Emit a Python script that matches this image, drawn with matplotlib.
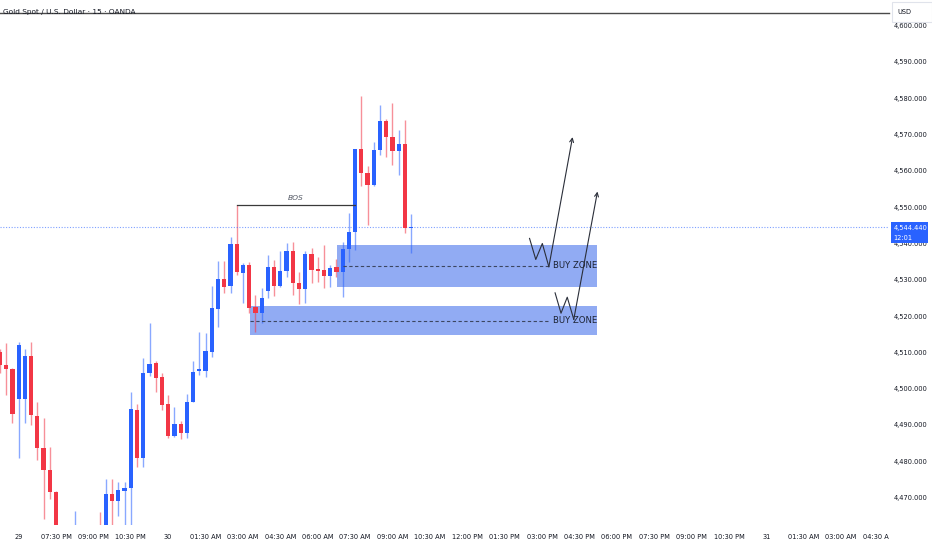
import matplotlib as mpl
import matplotlib.pyplot as plt
from matplotlib import font_manager
from matplotlib.patches import Rectangle

# 15-minute candles, index 0 = left edge of the chart
opens = [
    4510.1, 4506.5, 4505.4, 4497.1, 4497.1, 4509.1, 4492.6, 4483.7, 4477.6, 4471.6,
    4455.0, 4452.0, 4450.0, 4457.0, 4455.0, 4459.0, 4460.0, 4458.5, 4471.0, 4469.0,
    4471.9, 4472.6, 4494.1, 4480.8, 4504.2, 4507.0, 4503.1, 4495.7, 4487.0, 4490.2,
    4487.9, 4496.4, 4504.9, 4505.0, 4510.0, 4522.0, 4530.1, 4528.3, 4539.8, 4532.0,
    4534.1, 4522.6, 4520.8, 4527.0, 4533.4, 4528.3, 4532.5, 4537.8, 4529.2, 4527.4,
    4537.1, 4532.9, 4532.7, 4531.0, 4533.4, 4532.2, 4538.4, 4543.3, 4566.0, 4559.5,
    4556.1, 4565.8, 4573.7, 4569.3, 4565.6, 4567.4, 4544.2,
]
highs = [
    4511.0, 4512.6, 4505.8, 4513.0, 4510.9, 4512.8, 4496.4, 4491.9, 4484.0, 4471.8,
    4458.0, 4456.0, 4466.3, 4460.0, 4461.5, 4461.8, 4466.1, 4475.1, 4475.0, 4474.3,
    4474.4, 4499.2, 4495.8, 4508.4, 4518.0, 4507.5, 4504.4, 4498.3, 4495.0, 4491.2,
    4498.5, 4507.7, 4515.7, 4515.3, 4528.3, 4535.3, 4535.3, 4541.7, 4550.6, 4534.5,
    4535.0, 4525.8, 4527.7, 4536.8, 4535.5, 4538.0, 4540.2, 4540.5, 4532.2, 4538.0,
    4538.7, 4536.2, 4539.6, 4534.1, 4535.6, 4540.5, 4548.3, 4566.1, 4580.6, 4561.4,
    4568.0, 4578.2, 4574.2, 4578.6, 4571.3, 4574.0, 4548.0,
]
lows = [
    4504.3, 4498.3, 4490.6, 4480.8, 4490.6, 4490.0, 4480.4, 4464.0, 4469.5, 4452.0,
    4448.0, 4446.0, 4448.0, 4452.0, 4453.0, 4454.0, 4455.0, 4457.0, 4461.0, 4464.8,
    4461.0, 4461.0, 4478.5, 4478.5, 4503.5, 4499.2, 4494.1, 4486.3, 4486.8, 4486.1,
    4486.3, 4496.2, 4503.8, 4503.1, 4508.8, 4517.1, 4526.3, 4526.3, 4531.3, 4523.7,
    4520.8, 4515.7, 4518.0, 4524.9, 4525.5, 4528.1, 4530.9, 4525.8, 4523.3, 4523.5,
    4529.0, 4529.5, 4527.7, 4528.1, 4530.9, 4525.3, 4535.0, 4538.2, 4555.8, 4545.1,
    4555.8, 4564.4, 4563.7, 4561.6, 4558.9, 4543.0, 4537.3,
]
closes = [
    4506.5, 4505.4, 4493.0, 4512.1, 4509.1, 4492.8, 4483.7, 4477.6, 4471.5, 4455.0,
    4452.0, 4450.0, 4457.0, 4455.0, 4459.0, 4457.0, 4458.0, 4471.0, 4469.0, 4472.1,
    4472.7, 4494.3, 4480.8, 4504.2, 4506.7, 4502.9, 4495.5, 4487.0, 4490.2, 4487.9,
    4496.4, 4504.7, 4505.3, 4510.4, 4522.1, 4530.1, 4528.1, 4539.8, 4532.2, 4534.1,
    4522.3, 4520.8, 4524.9, 4533.4, 4528.3, 4532.5, 4537.8, 4529.0, 4527.4, 4537.1,
    4532.7, 4532.5, 4531.0, 4533.2, 4532.2, 4538.4, 4543.3, 4566.0, 4559.5, 4556.1,
    4565.8, 4573.7, 4569.3, 4565.6, 4567.4, 4544.2, 4544.44,
]

time_labels = [
    "29", "07:30 PM", "09:00 PM", "10:30 PM", "30", "01:30 AM", "03:00 AM",
    "04:30 AM", "06:00 AM", "07:30 AM", "09:00 AM", "10:30 AM", "12:00 PM",
    "01:30 PM", "03:00 PM", "04:30 PM", "06:00 PM", "07:30 PM", "09:00 PM",
    "10:30 PM", "31", "01:30 AM", "03:00 AM", "04:30 AM",
]
time_label_bars = [3 + 6 * i for i in range(len(time_labels))]
price_ticks = [4470, 4480, 4490, 4500, 4510, 4520, 4530, 4540, 4550, 4560,
               4570, 4580, 4590, 4600]

last_price = 4544.44
bos_level = 4550.6
bos_bars = (38, 57)
top_level = 4603.6

# demand zones: (left bar, right bar, bottom, top, mid line start)
zone_upper = (54.1, 95.9, 4528.0, 4539.45, 55.0)
zone_lower = (40.1, 95.9, 4514.8, 4522.8, 40.1)
zone_mid = [4533.9, 4518.7]

# projected paths drawn on the chart
path_upper_x = [85.0, 86.0, 87.05, 88.1, 91.9]
path_upper_y = [4541.4, 4535.6, 4540.0, 4533.6, 4569.3]
path_lower_x = [89.1, 90.05, 91.05, 92.1, 95.9]
path_lower_y = [4526.4, 4520.8, 4525.2, 4519.1, 4554.3]

BLUE = "#2962ff"
RED = "#f23645"
TXT = "#131722"

available = {f.name for f in font_manager.fontManager.ttflist}
family = "Liberation Sans Narrow" if "Liberation Sans Narrow" in available else "DejaVu Sans"
mpl.rcParams["font.family"] = family
fs = 6.3 if family == "Liberation Sans Narrow" else 4.8

W, H = 932, 550
fig = plt.figure(figsize=(W / 100, H / 100), dpi=100)
fig.patch.set_facecolor("white")
ax = fig.add_axes([0, 25 / H, 889 / W, 525 / H])
ax.set_facecolor("white")
for s in ax.spines.values():
    s.set_visible(False)

ax.set_xlim(0, 889 / 6.23)
ax.set_ylim(4590 - 463 / 3.63, 4590 + 62 / 3.63)

# zones
for (x0, x1, y0, y1, mx0), ym in zip([zone_upper, zone_lower], zone_mid):
    ax.add_patch(Rectangle((x0, y0), x1 - x0, y1 - y0, facecolor="#2458e8",
                           alpha=0.5, edgecolor="none", zorder=1))
    ax.plot([mx0, 88.0], [ym, ym], color="#3c4660", lw=0.8,
            ls=(0, (3, 2.2)), zorder=4)
    ax.text(88.8, ym, "BUY ZONE", fontsize=fs + 1.3, color="#1c2333",
            va="center", ha="left", zorder=5)

# candles
for i, (o, h, l, c) in enumerate(zip(opens, highs, lows, closes)):
    col = BLUE if c >= o else RED
    ax.vlines(i, l, h, color=col, lw=1.0, alpha=0.55, zorder=2)
    body = max(abs(c - o), 0.35)
    ax.bar(i, body, bottom=min(o, c), width=0.68, color=col, zorder=3,
           linewidth=0)

# BOS
ax.plot(bos_bars, [bos_level, bos_level], color="#3a3a3a", lw=0.9, zorder=4)
ax.text(sum(bos_bars) / 2, bos_level + 1.0, "BOS", fontsize=fs + 0.6,
        style="italic", color="#555a66", ha="center", va="bottom")

# projections
for px, py in [(path_upper_x, path_upper_y), (path_lower_x, path_lower_y)]:
    ax.plot(px[:-1], py[:-1], color="#2a2e39", lw=0.8, zorder=6)
    ax.annotate("", xy=(px[-1], py[-1]), xytext=(px[-2], py[-2]),
                arrowprops=dict(arrowstyle="->", color="#2a2e39", lw=0.8,
                                shrinkA=0, shrinkB=0, mutation_scale=7),
                zorder=6)

# last price and top line
ax.axhline(last_price, color=BLUE, lw=0.8, ls=(0, (1, 1.5)), alpha=0.6, zorder=2)
ax.plot([0, 889 / 6.23], [top_level, top_level], color="#4a4a4a", lw=1.0,
        clip_on=False, zorder=4)
ax.text(0.5, top_level + 0.3, "Gold Spot / U.S. Dollar · 15 · OANDA",
        fontsize=fs + 0.5, color=TXT, ha="left", va="center", zorder=5)

ax.yaxis.tick_right()
ax.set_yticks(price_ticks)
ax.set_yticklabels([f"{p:,.3f}" for p in price_ticks])
ax.tick_params(axis="y", length=0, pad=3.5, labelsize=fs, labelcolor=TXT)
ax.set_xticks(time_label_bars)
ax.set_xticklabels(time_labels)
ax.tick_params(axis="x", length=0, pad=6.5, labelsize=fs, labelcolor=TXT)

# cut the last time label at the price scale
fig.add_artist(Rectangle((889 / W, 0), 1, 25 / H, transform=fig.transFigure,
                         facecolor="white", edgecolor="none", zorder=10))
# USD box
fig.add_artist(Rectangle((892 / W, 1 - 22 / H), 40 / W, 20 / H,
                         transform=fig.transFigure, facecolor="white",
                         edgecolor="#e0e3eb", lw=0.8, zorder=11))
fig.text(897 / W, 1 - 11.5 / H, "USD", fontsize=fs, color=TXT, va="center",
         zorder=12)
# last price box
fig.add_artist(Rectangle((891 / W, 1 - 243 / H), 37 / W, 21 / H,
                         transform=fig.transFigure, facecolor=BLUE,
                         edgecolor="none", zorder=11))
fig.text(893.5 / W, 1 - 228 / H, f"{last_price:,.3f}", fontsize=fs,
         color="white", va="center", zorder=12)
fig.text(893.5 / W, 1 - 238 / H, "12:01", fontsize=fs, color="white",
         va="center", zorder=12)

fig.savefig("out.png", dpi=100, facecolor="white")
